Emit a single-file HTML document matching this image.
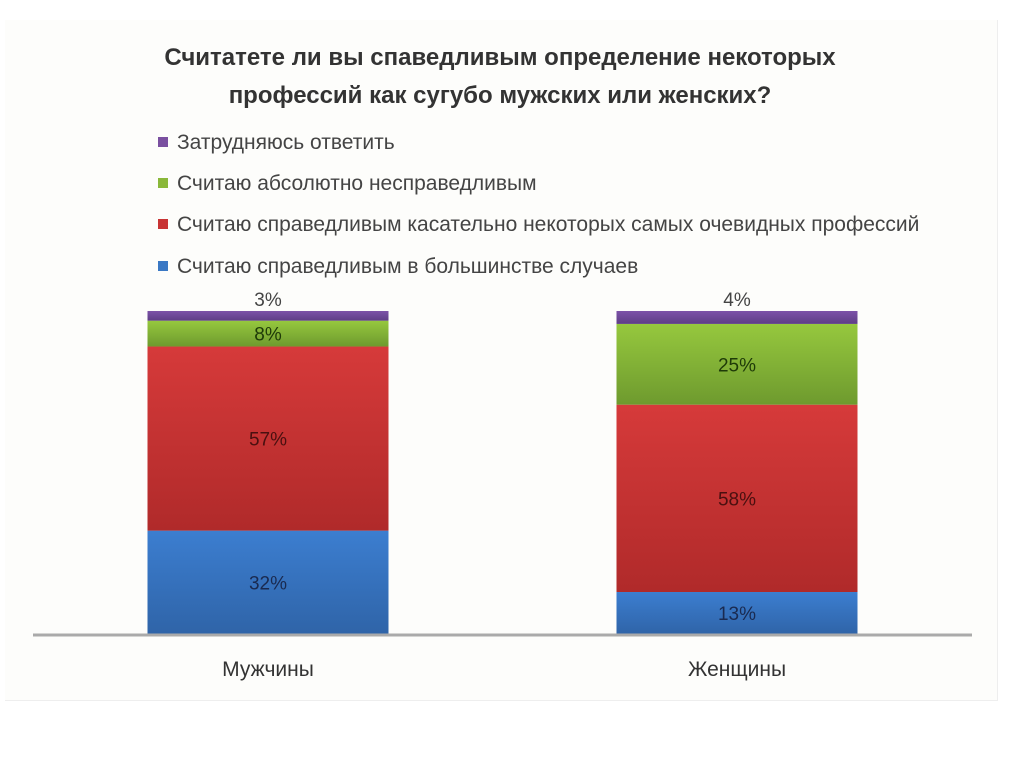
<!DOCTYPE html>
<html><head><meta charset="utf-8"><style>
body{margin:0;width:1024px;height:767px;background:#fff;font-family:"Liberation Sans","DejaVu Sans",sans-serif;overflow:hidden}
#frame{position:absolute;left:5px;top:20px;width:992px;height:680px;background:#fdfdfb;border-right:1px solid #eee;border-bottom:1px solid #eee}
.title{position:absolute;left:0;width:1000px;text-align:center;font-weight:bold;font-size:24px;color:#333}
.leg{position:absolute;left:158px;font-size:21px;color:#444;white-space:nowrap}
.leg i{display:inline-block;width:10px;height:10px;margin-right:9px;vertical-align:2px}
.cat{position:absolute;font-size:21px;color:#333;width:240px;text-align:center;top:658px}
</style></head><body>
<div id="frame"></div>
<div class="title" style="top:44px">Считатете ли вы спаведливым определение некоторых</div>
<div class="title" style="top:82px">профессий как сугубо мужских или женских?</div>
<div class="leg" style="top:131px"><i style="background:#7a50a0"></i>Затрудняюсь ответить</div>
<div class="leg" style="top:172px"><i style="background:#8ab83a"></i>Считаю абсолютно несправедливым</div>
<div class="leg" style="top:213px"><i style="background:#c83434"></i>Считаю справедливым касательно некоторых самых очевидных профессий</div>
<div class="leg" style="top:255px"><i style="background:#3a78c4"></i>Считаю справедливым в большинстве случаев</div>
<svg id="chart" width="1024" height="767" style="position:absolute;left:0;top:0">
<defs>
<linearGradient id="gb" x1="0" y1="0" x2="0" y2="1"><stop offset="0" stop-color="#3c7ed0"/><stop offset="1" stop-color="#2f64a8"/></linearGradient>
<linearGradient id="gr" x1="0" y1="0" x2="0" y2="1"><stop offset="0" stop-color="#d63a3a"/><stop offset="1" stop-color="#b02a2a"/></linearGradient>
<linearGradient id="gg" x1="0" y1="0" x2="0" y2="1"><stop offset="0" stop-color="#96c83e"/><stop offset="1" stop-color="#6e9a2e"/></linearGradient>
<linearGradient id="gp" x1="0" y1="0" x2="0" y2="1"><stop offset="0" stop-color="#7c52a8"/><stop offset="1" stop-color="#5e3e86"/></linearGradient>
</defs>
</svg>
<script>
const categories=["Мужчины","Женщины"];
const fairMost=[32,13];
const fairSome=[57,58];
const unfair=[8,25];
const unsure=[3,4];
const series=[fairMost,fairSome,unfair,unsure];
const seriesNames=["fair-most","fair-some","unfair","unsure"];
const fills=["url(#gb)","url(#gr)","url(#gg)","url(#gp)"];
const labelColors=["#1a2a50","#4a1010","#1e3a08","#444"];
const svg=document.getElementById('chart');
const NS="http://www.w3.org/2000/svg";
const baseY=634,pxPer=3.23,barW=241;
const xCenter=i=>268+i*469;
const y=v=>baseY-v*pxPer;
categories.forEach((c,i)=>{
  let cum=0;
  series.forEach((s,k)=>{
    const v=s[i];
    const r=document.createElementNS(NS,'rect');
    r.setAttribute('x',xCenter(i)-barW/2);r.setAttribute('y',y(cum+v));
    r.setAttribute('width',barW);r.setAttribute('height',v*pxPer);
    r.setAttribute('fill',fills[k]);
    
    
    svg.appendChild(r);
    const t=document.createElementNS(NS,'text');
    t.setAttribute('x',xCenter(i));
    const ly=k===3?y(cum+v)-5:y(cum+v/2)+7;
    t.setAttribute('y',ly);
    t.setAttribute('text-anchor','middle');
    t.setAttribute('font-size','19');
    t.setAttribute('fill',labelColors[k]);
    t.textContent=v+'%';
    
    
    svg.appendChild(t);
    cum+=v;
  });
  const d=document.createElement('div');
  d.className='cat';d.style.left=(xCenter(i)-120)+'px';d.textContent=c;
  
  
  document.body.appendChild(d);
});
const ax=document.createElementNS(NS,'line');
ax.setAttribute('x1',33);ax.setAttribute('x2',972);ax.setAttribute('y1',baseY+1);ax.setAttribute('y2',baseY+1);
ax.setAttribute('stroke','#aaa');ax.setAttribute('stroke-width','3');


svg.appendChild(ax);
</script>
</body></html>
